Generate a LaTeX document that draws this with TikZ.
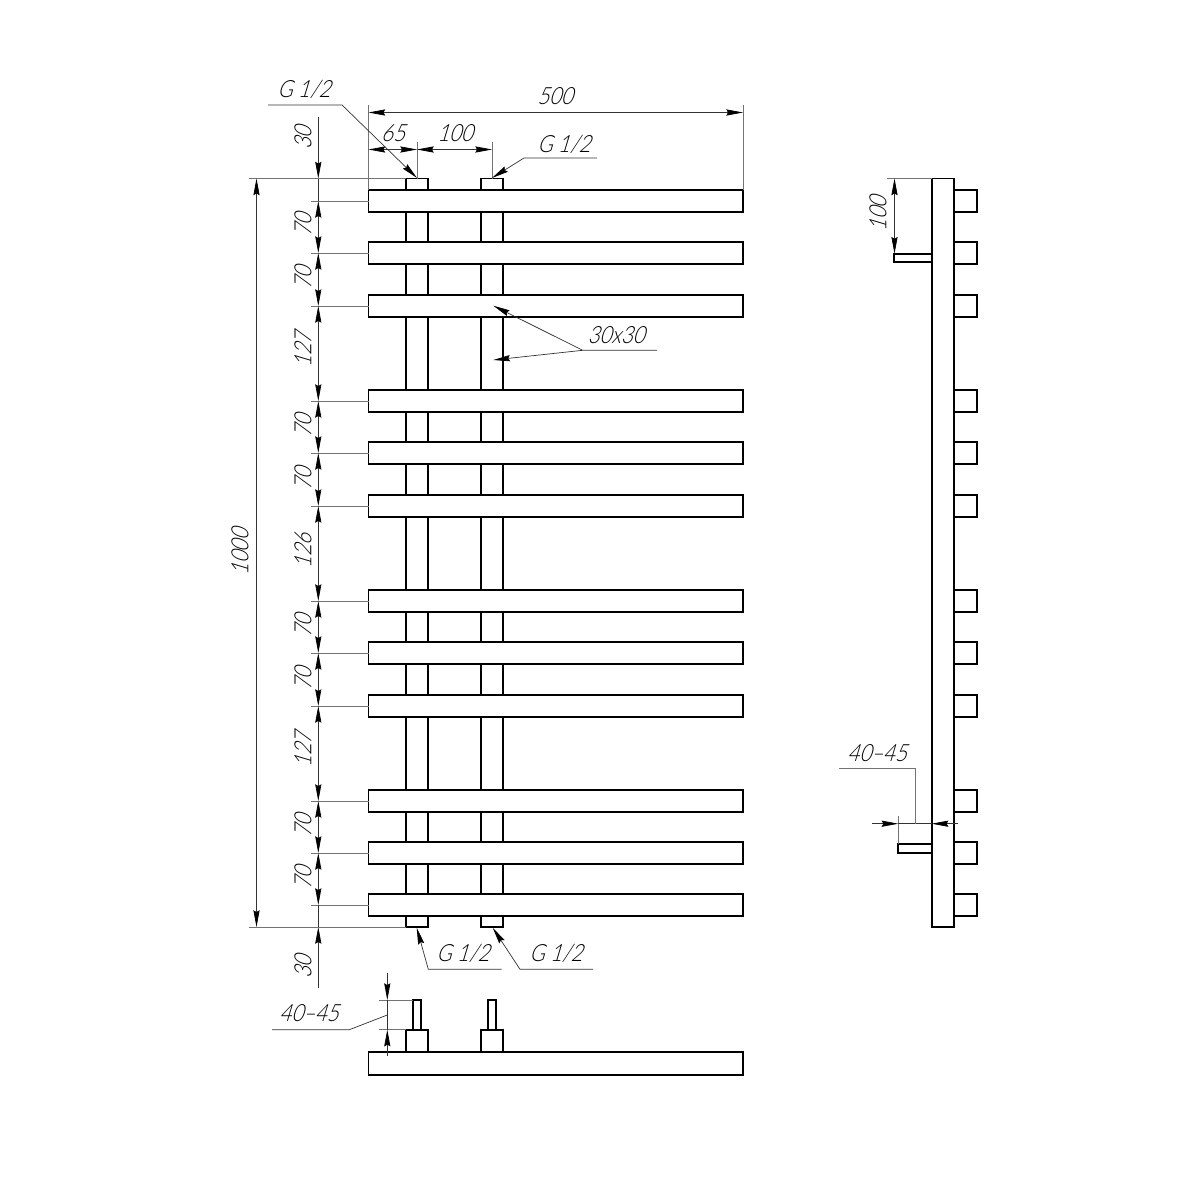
\documentclass[tikz,border=0pt]{standalone}
\usepackage{fontspec}
\setmainfont{Lato Light}[ItalicFont=Lato Light,ItalicFeatures={FakeSlant=0.3,FakeStretch=0.86}]
\usetikzlibrary{arrows.meta}
\tikzset{
  part/.style={draw=black,line width=1.1pt,fill=white},
  thin line/.style={draw=black!80,line width=0.4pt},
  ext/.style={draw=black!55,line width=0.45pt},
  dimtip/.tip={Stealth[length=9.5pt,width=3.5pt,inset=1pt,black]},
  dim/.style={thin line,dimtip-dimtip},
  dimend/.style={thin line,-dimtip},
  lbl/.style={inner sep=0pt,text=black,font=\fontsize{13.5}{15}\selectfont\itshape},
  lblv/.style={lbl,rotate=90}
}
\begin{document}
\begin{tikzpicture}[x=0.02cm,y=-0.02cm]
\useasboundingbox (0,0) rectangle (1200,1200);
% front view: riser pipes behind the bars
\draw[part] (405.7,178.5) rectangle (428.3,927);
\draw[part] (480.7,178.5) rectangle (503.3,927);
\foreach \c in {201,253,306,401,453,506,601,653,706,801,853,905}{
  \draw[part] (368.5,\c-11.3) rectangle (743,\c+11.3);
  \draw[ext] (311,\c) -- (368.5,\c);
}
% vertical chain of dimensions
\foreach \a/\b in {201/253,253/306,306/401,401/453,453/506,506/601,601/653,653/706,706/801,801/853,853/905}{
  \draw[dim] (318.3,\a) -- (318.3,\b);
}
\coordinate (topfree) at (318.3,117);
\coordinate (topext) at (318.3,178.5);
\coordinate (botfree) at (318.3,988);
\coordinate (botext) at (318.3,927);
\draw[dimend] (topfree) -- (topext);
\draw[dimend] (botfree) -- (botext);
\draw[thin line] (topext) -- (318.3,201);
\draw[thin line] (botext) -- (318.3,905);
\draw[ext] (248.5,178.5) -- (406,178.5);
\draw[ext] (248.5,927) -- (406,927);
\draw[dim] (256.5,178.5) -- (256.5,927);
\node[lblv] (d30a) at (303,138) {30};
\node[lblv] (d70a) at (303,225) {70};
\node[lblv] (d70b) at (303,278) {70};
\node[lblv] (d127a) at (303,350) {127};
\node[lblv] (d70c) at (303,426) {70};
\node[lblv] (d70d) at (303,479) {70};
\node[lblv] (d126) at (303,551) {126};
\node[lblv] (d70e) at (303,626) {70};
\node[lblv] (d70f) at (303,679) {70};
\node[lblv] (d127b) at (303,750) {127};
\node[lblv] (d70g) at (303,826) {70};
\node[lblv] (d70h) at (303,878) {70};
\node[lblv] (d30b) at (303,967) {30};
\node[lblv] (d1000) at (240,552) {1000};
% top dimensions
\draw[ext] (368.5,105) -- (368.5,190);
\draw[ext] (743,105) -- (743,190);
\draw[ext] (417,142) -- (417,178.5);
\draw[ext] (492,142) -- (492,178.5);
\draw[dim] (368.5,112.5) -- (743,112.5);
\draw[dim] (368.5,149.5) -- (417,149.5);
\draw[dim] (417,149.5) -- (492,149.5);
\node[lbl] (d500) at (555,96) {500};
\node[lbl] (d65) at (393,133) {65};
\node[lbl] (d100) at (455,133) {100};
% leaders
\draw[dimend] (268,105) -- (342,105) -- (417,178);
\node[lbl] (g1) at (304,89) {G 1/2};
\draw[dimend] (597,158) -- (524,158) -- (492,178);
\node[lbl] (g2) at (564,144) {G 1/2};
\draw[dimend] (657,350.3) -- (582.7,350.3) -- (493.3,305.7);
\draw[dimend] (582.7,350.3) -- (493.3,360);
\node[lbl] (s30) at (616,335) {30x30};
\draw[dimend] (501.7,969.3) -- (428.3,969.3) -- (416.7,927.7);
\node[lbl] (g3) at (463,953) {G 1/2};
\draw[dimend] (593,969.3) -- (520,969.3) -- (492.7,927.7);
\node[lbl] (g4) at (556,953) {G 1/2};
% bottom view
\draw[part] (413.3,1000) rectangle (421,1029.7);
\draw[part] (488.3,1000) rectangle (496,1029.7);
\draw[part] (405.7,1029.7) rectangle (428.3,1052.3);
\draw[part] (480.7,1029.7) rectangle (503.3,1052.3);
\draw[part] (368.5,1052.3) rectangle (743,1074.7);
\draw[ext] (379,1000) -- (413.3,1000);
\draw[ext] (379,1029.7) -- (405.7,1029.7);
\draw[dimend] (387.3,973) -- (387.3,1000);
\draw[dimend] (387.3,1056) -- (387.3,1029.7);
\draw[thin line] (387.3,1000) -- (387.3,1029.7);
\draw[thin line] (387.3,1015) -- (349.3,1029.7) -- (272,1029.7);
\node[lbl] (b4045) at (309,1013) {40–45};
% side view
\foreach \c in {201,253,306,401,453,506,601,653,706,801,853,905}{
  \draw[part] (954.3,\c-11.3) rectangle (977,\c+11.3);
}
\draw[part] (931.7,178.5) rectangle (954.3,927);
\draw[part] (894.3,253.7) rectangle (931.7,261.7);
\draw[part] (898.3,844) rectangle (931.7,852.7);
\draw[ext] (887,178.5) -- (931.7,178.5);
\draw[dim] (894.5,178.5) -- (894.5,253.7);
\node[lblv] (s100) at (878,214) {100};
\draw[ext] (898.3,816) -- (898.3,844);
\draw[dimend] (872,823.7) -- (898.3,823.7);
\draw[dimend] (958,823.7) -- (931.7,823.7);
\draw[thin line] (898.3,823.7) -- (931.7,823.7);
\draw[ext] (915,823.7) -- (915,768.7) -- (839,768.7);
\node[lbl] (s4045) at (877,753) {40–45};
\end{tikzpicture}
\end{document}
